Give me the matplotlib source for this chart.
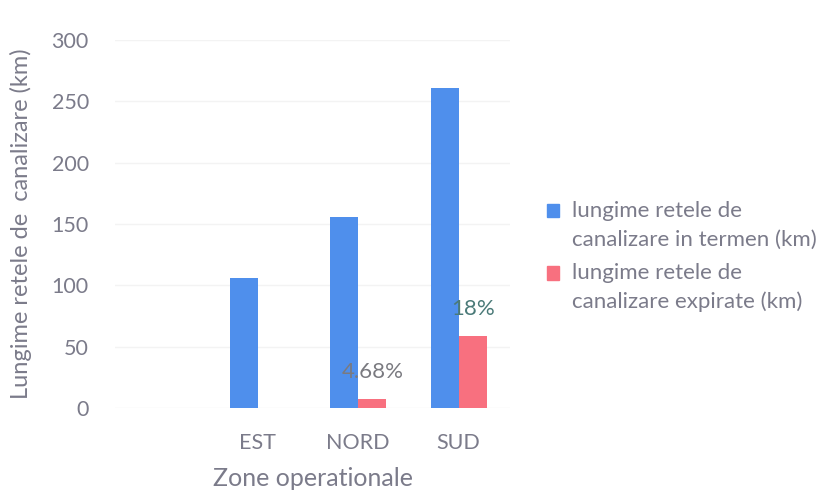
import numpy as np
import matplotlib.pyplot as plt
import matplotlib.patches as mpatches
from matplotlib.legend_handler import HandlerPatch

plt.rcParams["font.family"] = ["Lato", "DejaVu Sans"]

# ── data ─────────────────────────────────────────────────────────────
zones = ["EST", "NORD", "SUD"]
in_termen = [106, 156, 261]
expirate = [0, 7.3, 59]
pct_labels = ["", "4.68%", "18%"]
pct_colors = ["#777777", "#7a7a80", "#4a7a78"]
series_names = ["lungime retele de\ncanalizare in termen (km)",
                "lungime retele de\ncanalizare expirate (km)"]

BLUE = "#4f8fec"
RED = "#f8707f"
TXT = "#7b7b8a"

fig = plt.figure(figsize=(8.29, 4.94), dpi=100)
ax = fig.add_axes([0.139, 0.174, 0.476, 0.745])

x = np.arange(len(zones))
w = 0.28
ax.bar(x - w / 2, in_termen, w, color=BLUE, zorder=2)
ax.bar(x + w / 2, expirate, w, color=RED, zorder=2)

for xi, val, lab, c in zip(x, expirate, pct_labels, pct_colors):
    if lab:
        ax.text(xi + w / 2, val + 22, lab, ha="center", va="center",
                fontsize=16, color=c, zorder=3)

ax.set_xlim(-1.42, 2.51)
ax.set_ylim(0, 300)
ax.set_yticks(range(0, 301, 50))
ax.set_xticks(x)
ax.set_xticklabels(zones)
ax.tick_params(axis="y", length=0, pad=19, labelsize=15.5, labelcolor=TXT)
ax.tick_params(axis="x", length=0, pad=18, labelsize=15.5, labelcolor=TXT)
ax.grid(axis="y", color="#f3f3f3", linewidth=1, zorder=0)
for s in ax.spines.values():
    s.set_visible(False)

ax.set_ylabel("Lungime retele de  canalizare (km)", fontsize=17, color=TXT, labelpad=14)
ax.set_xlabel("Zone operationale", fontsize=18, color=TXT, labelpad=10)


# legend squares sit next to the first line of each two-line label
def top_square(legend, orig_handle, xdescent, ydescent, width, height, fontsize):
    return mpatches.Rectangle((-xdescent, -ydescent + 10.5), width, height)


handles = [mpatches.Patch(color=BLUE), mpatches.Patch(color=RED)]
leg = fig.legend(handles, series_names, loc="upper left",
                 bbox_to_anchor=(0.660, 0.594), frameon=False,
                 fontsize=16, labelcolor=TXT, handlelength=0.55, handleheight=0.55,
                 handletextpad=0.55, labelspacing=0.6, borderpad=0, borderaxespad=0,
                 handler_map={mpatches.Patch: HandlerPatch(patch_func=top_square)})
for t in leg.get_texts():
    t.set_linespacing(1.55)

fig.savefig("out.png", dpi=100)
